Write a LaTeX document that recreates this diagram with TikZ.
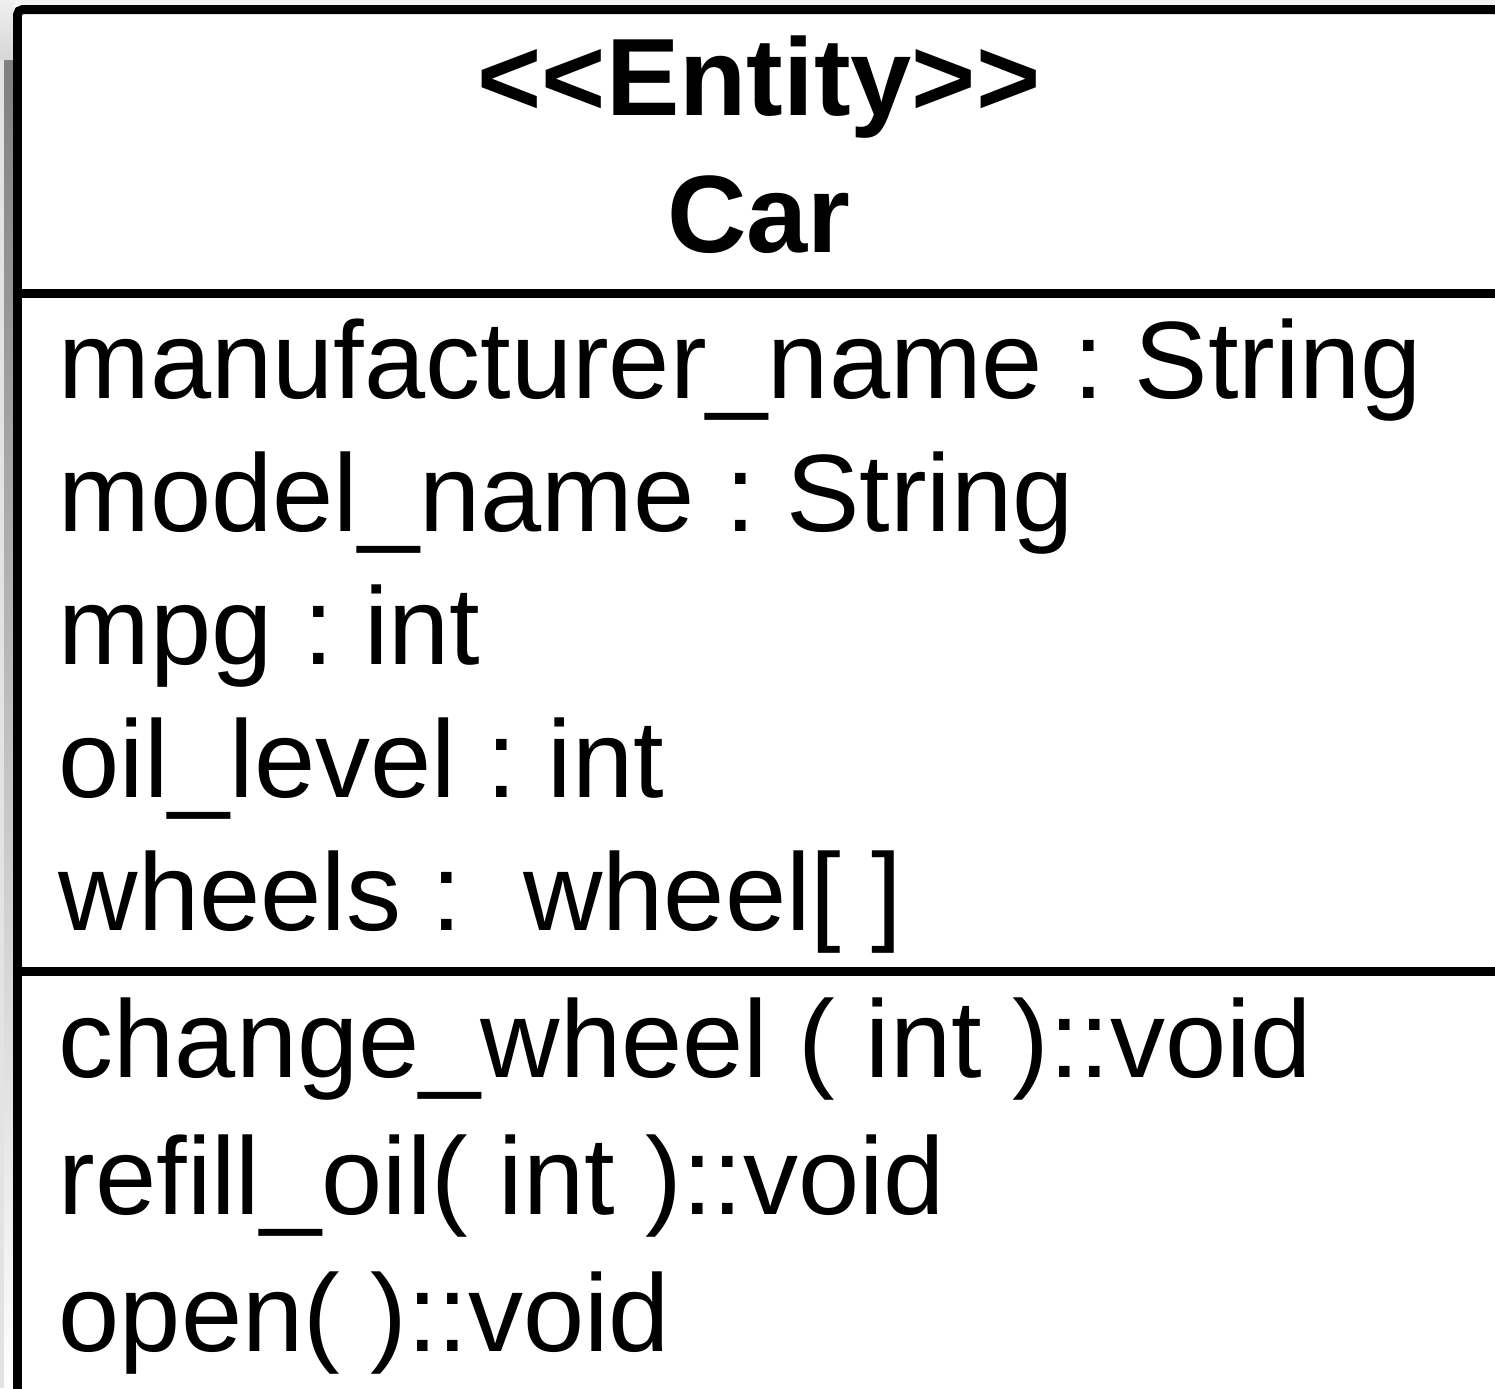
\documentclass[tikz,border=0pt]{standalone}
\usepackage{fontspec}
\setmainfont{Liberation Sans}[Ligatures=NoCommon]

\colorlet{rule}{black}
\colorlet{shade}{gray!32}

\tikzset{
  title/.style={anchor=base, inner sep=0pt, font=\fontsize{31.3}{37}\selectfont\bfseries\frenchspacing},
  member/.style={anchor=base west, inner sep=0pt, font=\fontsize{31.3}{37}\selectfont\frenchspacing},
}

\begin{document}
\begin{tikzpicture}
  \useasboundingbox (0, 0) rectangle (14.95, -13.88);
  \clip (0, 0) rectangle (14.95, -13.88);
  % drop shadow along the top and left side
  \fill[gray!10] (0, 0) rectangle (14.95, -0.06);
  \shade[top color=gray!12, bottom color=shade] (0, 0) rectangle (0.14, -0.6);
  \fill[shade] (0, -0.6) rectangle (0.14, -13.88);
  \fill[gray!22] (0, -0.6) rectangle (0.04, -13.88);
  % class box with its three compartments
  \draw[line width=2.56pt, color=rule, fill=white, rounded corners=1.5pt] (0.175, -0.095) rectangle (15.0, -14.3);
  \draw[line width=2.56pt, color=rule] (0.175, -2.935) -- (15.0, -2.935);
  \draw[line width=2.56pt, color=rule] (0.175, -9.715) -- (15.0, -9.715);
  % header
  \draw (7.59, -1.15)  node[title] (stereo) {<{}<Entity>{}>};
  \draw (7.59, -2.52)  node[title] (classname) {Car};
  % attributes
  \draw (0.58, -3.98)  node[member] (maker) {manufacturer\_name : String};
  \draw (0.58, -5.31)  node[member] (model) {model\_name : String};
  \draw (0.58, -6.64)  node[member] (mpg) {mpg : int};
  \draw (0.58, -7.97)  node[member] (oil) {oil\_level : int};
  \draw (0.58, -9.30)  node[member] (wheels) {wheels : \ wheel[ ]};
  % operations
  \draw (0.58, -10.77) node[member] (chwheel) {change\_wheel ( int )::void};
  \draw (0.58, -12.14) node[member] (refill) {refill\_oil( int )::void};
  \draw (0.58, -13.51) node[member] (open) {open( )::void};
\end{tikzpicture}
\end{document}
